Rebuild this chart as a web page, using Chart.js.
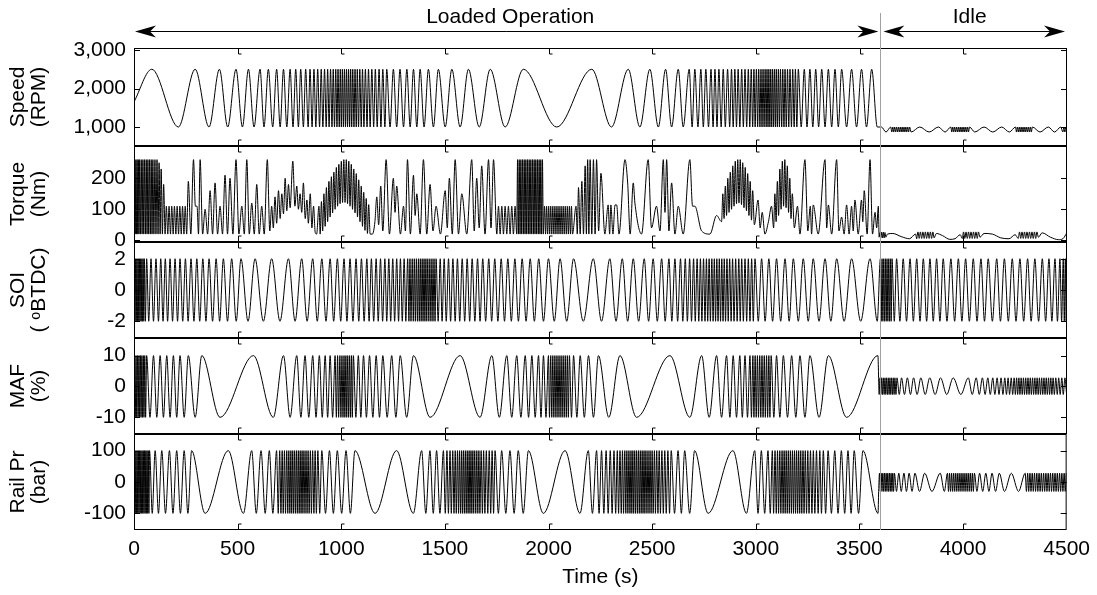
<!DOCTYPE html>
<html lang="en">
<head>
<meta charset="UTF-8" />
<title>Engine test cycle - loaded and idle operation</title>
<script src="https://cdn.jsdelivr.net/npm/chart.js"></script>
<style>
  body { margin: 0; background: #fff; }
  #wrap { position: relative; width: 1097px; height: 595px; }
  #wrap canvas { position: absolute; left: 0; top: 0; }
</style>
</head>
<body>
<div id="wrap">
  <canvas id="speedChart" width="1097" height="595"></canvas>
  <canvas id="torqueChart" width="1097" height="595"></canvas>
  <canvas id="soiChart" width="1097" height="595"></canvas>
  <canvas id="mafChart" width="1097" height="595"></canvas>
  <canvas id="railChart" width="1097" height="595"></canvas>
</div>
<script>
// ---- data (times in s) ----
const timeTicks = [0, 500, 1000, 1500, 2000, 2500, 3000, 3500, 4000, 4500];
const phaseSplit = 3590;   // last sample of loaded operation
const idleLine = 3600;

// Speed (RPM): turning points
const speedStart = [0, 1650];
const speedPeaks = [86,295,412,492,552,608,648,688,721,753,780,804,828,849,868,886,903,919,934,948,961,973,984,995,1005,1015,1025,1035,1045,1055,1066,1077,1089,1102,1116,1131,1147,1164,1182,1200,1219,1251,1283,1316,1348,1380,1420,1468,1533,1613,1718,1878,2208,2384,2488,2564,2625,2678,2705,2734,2758,2783,2802,2821,2842,2863,2882,2898,2914,2931,2947,2963,2977,2990,3002,3013,3024,3034,3044,3053,3062,3071,3080,3089,3098,3108,3118,3129,3140,3152,3164,3177,3190,3204,3233,3260,3288,3317,3349,3381,3413,3461,3509,3558,
  3605,3650,3660,3669,3678,3687,3696,3705,3714,3723,3732,3741,3790,3880,3940,3949,3958,3967,3976,3985,3994,4003,4012,4021,4030,4100,4185,4252,4261,4270,4279,4288,4297,4306,4315,4324,4333,4410,4470,4485,4494];
const speedTroughs = [214,362,452,523,579,627,669,705,737,767,793,817,840,859,877,895,911,927,941,955,967,979,990,1000,1010,1020,1030,1040,1050,1061,1072,1083,1096,1109,1124,1139,1156,1173,1191,1210,1235,1267,1300,1332,1364,1399,1444,1501,1573,1665,1790,2039,2303,2440,2529,2593,2649,2692,2720,2746,2771,2793,2812,2832,2852,2873,2890,2906,2922,2939,2955,2970,2984,2996,3008,3019,3029,3039,3049,3058,3067,3076,3085,3094,3103,3113,3124,3135,3146,3158,3171,3184,3197,3218,3246,3274,3302,3333,3365,3397,3437,3485,3533,3585,
  3627,3655,3664,3673,3682,3691,3700,3709,3718,3727,3736,3748,3835,3912,3944,3953,3962,3971,3980,3989,3998,4007,4016,4025,4055,4142,4222,4256,4265,4274,4283,4292,4301,4310,4319,4328,4370,4440,4480,4490,4500];
const speedLoaded = [2500, 1000];
const speedIdle = [1000, 870];

// Torque (Nm): [time, value]
const torqueTrace = [
  [0,110],[3,260],[6,20],[9,260],[12,20],[15,260],[18,20],[21,260],[24,20],[27,260],[31,20],[35,260],[39,20],[43,260],[47,20],[51,260],[55,20],[59,260],[63,20],[67,260],[71,20],[75,260],[79,20],[83,260],[87,20],[91,260],[96,20],[101,260],[106,20],[111,260],[116,20],[121,250],[126,20],[131,230],[137,20],[143,180],[150,20],[156,110],
  [163,20],[169,110],[176,20],[182,110],[189,20],[195,110],[202,20],[208,110],[215,20],[221,110],[228,20],[234,110],[241,20],[247,110],[254,20],
  [262,190],[274,20],[287,260],[296,110],[304,110],[311,20],[319,260],[331,20],[343,100],[355,20],[367,160],[379,20],[391,185],[403,20],[415,110],[427,20],[439,210],[451,20],[463,200],[477,20],[492,260],[506,20],[520,110],[532,20],[544,260],[556,20],[568,120],[580,20],[592,180],[604,20],[616,110],[628,20],[643,260],[655,30],[664,110],[672,40],[680,140],[688,55],[697,160],[705,70],[713,150],[721,85],[729,200],[737,95],[745,180],[753,105],[766,255],[776,110],[785,175],[793,100],[801,150],[809,90],[817,185],[826,70],[834,130],[841,55],[850,150],[858,40],[866,110],[874,25],[881,20],
  [892,110],[898,20],[904,125],[910,30],[916,150],[922,45],[928,170],[934,60],[940,190],[946,75],[952,205],[958,88],[964,220],[970,100],[976,235],[982,110],[988,245],[994,118],[1000,255],[1006,122],[1012,260],[1018,122],[1024,260],[1030,118],[1036,255],[1042,110],[1048,245],[1054,100],[1060,230],[1066,88],[1072,215],[1078,75],[1084,195],[1090,60],[1096,175],[1102,45],[1108,155],[1114,32],[1120,135],[1126,22],[1132,115],[1139,20],
  [1150,20],[1162,60],[1171,140],[1180,50],[1190,175],[1200,30],[1216,260],[1232,20],[1251,200],[1259,90],[1267,175],[1285,20],[1300,110],[1309,30],[1319,260],[1333,20],[1348,210],[1356,80],[1364,150],[1380,20],[1396,260],[1412,20],[1428,180],[1442,30],[1457,110],[1478,20],[1501,160],[1511,40],[1521,200],[1535,20],[1549,260],[1565,20],[1581,150],[1605,20],[1629,260],[1641,30],[1653,200],[1665,40],[1677,240],[1693,20],[1710,260],[1722,40],[1734,260],[1750,20],[1758,110],[1766,20],[1774,110],[1782,20],[1790,110],[1798,20],[1806,110],[1814,20],[1822,110],[1830,20],[1838,110],
  [1846,20],[1850,260],[1854,20],[1858,260],[1862,20],[1866,260],[1870,20],[1874,260],[1878,20],[1882,260],[1886,20],[1890,260],[1894,20],[1898,260],[1902,20],[1906,260],[1910,20],[1914,260],[1918,20],[1922,260],[1926,20],[1930,260],[1934,20],[1938,260],[1942,20],[1946,260],[1950,20],[1954,260],[1958,20],[1962,260],[1966,20],[1970,260],[1974,20],
  [1980,110],[1985,20],[1990,110],[1995,20],[2000,110],[2005,20],[2010,110],[2015,20],[2020,110],[2025,20],[2030,110],[2035,20],[2040,110],[2045,20],[2050,110],[2055,20],[2060,110],[2065,20],[2070,110],[2075,20],[2080,110],[2085,20],[2090,110],[2095,20],[2100,110],[2105,20],[2110,110],[2115,20],
  [2132,110],[2138,20],[2144,170],[2152,20],[2160,190],[2168,20],[2176,240],[2182,20],[2188,260],[2194,20],[2200,260],[2208,20],[2216,260],[2224,20],[2231,260],[2241,30],[2252,216],[2271,20],[2287,114],[2294,20],[2300,114],[2310,20],[2320,114],[2328,114],[2339,20],[2368,260],[2381,185],[2393,20],[2408,185],[2416,120],[2448,20],[2480,260],[2496,40],[2520,110],[2537,30],[2553,260],[2561,90],[2569,260],[2580,30],[2593,185],[2609,20],[2625,110],[2649,20],[2681,260],[2694,110],[2705,110],[2738,30],[2778,20],[2810,80],
  [2834,60],[2840,150],[2846,70],[2852,175],[2858,80],[2864,200],[2870,90],[2876,220],[2882,100],[2888,240],[2894,110],[2900,255],[2906,118],[2912,260],[2918,120],[2924,260],[2930,115],[2936,250],[2942,105],[2948,235],[2954,95],[2960,215],[2966,80],[2972,190],[2978,65],[2984,160],[2992,50],
  [3010,130],[3020,40],[3030,90],[3043,20],[3060,60],[3075,110],[3085,40],[3091,150],[3097,60],[3103,190],[3109,80],[3115,230],[3121,100],[3127,255],[3133,110],[3139,260],[3145,105],[3151,240],[3157,90],[3163,200],[3169,70],[3175,150],[3185,40],[3200,110],[3212,20],[3236,260],[3250,30],[3262,110],[3268,20],[3276,114],[3300,20],[3333,260],[3341,40],[3349,114],[3365,20],[3389,260],[3400,30],[3413,75],[3425,20],[3437,114],[3449,20],[3461,110],[3469,30],[3477,130],[3493,20],[3509,130],[3515,60],[3522,160],[3536,20],[3550,260],[3562,20],[3574,90],[3582,40],[3590,110],
  [3594,10],[3598,25],[3602,8],[3606,26],[3610,8],[3614,26],[3618,8],[3622,25],[3626,10],[3634,20],[3660,22],[3700,12],[3740,5],[3770,20],[3775,5],[3781,27],[3787,6],[3793,27],[3799,6],[3805,27],[3811,6],[3817,27],[3823,6],[3829,27],[3835,6],[3841,27],[3847,6],[3853,27],[3859,8],[3870,22],[3900,15],[3935,3],[3960,5],[3985,18],[3995,6],[4001,27],[4007,6],[4013,27],[4019,6],[4025,27],[4031,6],[4037,27],[4043,6],[4049,27],[4055,6],[4061,27],[4067,6],[4073,27],[4080,10],[4100,22],[4140,20],[4180,8],[4220,5],[4250,18],[4265,6],[4271,27],[4277,6],[4283,27],[4289,6],[4295,27],[4301,6],[4307,27],[4313,6],[4319,27],[4325,6],[4331,27],[4337,6],[4343,27],[4349,6],[4355,27],[4362,10],[4380,24],[4420,10],[4460,2],[4480,5],[4500,25]
];

// SOI (deg BTDC): turning points
const soiPeaks = [2,8,14,20,26,32,38,44,50,61,82,106,129,151,174,198,222,248,275,303,332,362,396,431,471,516,584,664,745,809,862,906,946,981,1013,1042,1071,1097,1123,1145,1168,1189,1210,1229,1248,1267,1285,1303,1320,1331,1342,1352,1362,1372,1381,1390,1399,1408,1417,1427,1437,1447,1457,1477,1496,1517,1538,1560,1583,1607,1631,1657,1682,1711,1740,1771,1803,1837,1872,1911,1952,1999,2055,2120,2215,2295,2355,2408,2461,2504,2545,2580,2609,2636,2659,2680,2699,2716,2732,2747,2761,2774,2787,2799,2811,2823,2835,2847,2860,2873,2887,2902,2917,2931,2947,2963,2979,2995,3027,3062,3099,3140,3180,3228,3276,3333,3389,3461,3550,
  3600,3608,3616,3624,3632,3640,3648,3656,3678,3710,3743,3775,3807,3839,3871,3903,3940,3976,4011,4048,4085,4120,4161,4198,4236,4273,4310,4345,4381,4413,4442,4466,4482,4492,4500];
const soiTroughs = [5,11,17,23,29,35,41,47,55,71,94,118,140,162,186,210,235,261,289,317,347,379,413,451,493,550,624,704,777,835,884,926,963,997,1027,1056,1084,1110,1134,1156,1178,1199,1219,1238,1257,1276,1294,1311,1326,1336,1347,1357,1367,1376,1385,1394,1403,1412,1422,1432,1442,1452,1467,1486,1506,1527,1549,1571,1595,1619,1644,1669,1696,1725,1755,1787,1820,1854,1891,1931,1975,2027,2087,2167,2255,2325,2381,2434,2482,2524,2562,2594,2622,2647,2669,2689,2707,2724,2739,2754,2767,2780,2793,2805,2817,2829,2841,2853,2866,2880,2894,2909,2924,2939,2955,2971,2987,3011,3044,3080,3119,3160,3204,3252,3304,3361,3425,3505,3585,
  3604,3612,3620,3628,3636,3644,3652,3667,3694,3726,3759,3791,3823,3855,3887,3921,3958,3993,4029,4066,4102,4140,4179,4217,4254,4291,4327,4363,4397,4427,4454,4474,4487,4496];
const soiLoaded = [2, -2];
const soiIdle = [2, -2];

// MAF (%): turning points
const mafPeaks = [3,10,17,24,31,38,45,52,61,94,126,158,190,222,262,327,576,721,785,825,862,894,922,946,970,982,993,1003,1013,1022,1031,1040,1049,1058,1082,1107,1136,1168,1200,1243,1284,1348,1573,1726,1798,1846,1887,1919,1951,1975,1999,2010,2020,2030,2040,2050,2060,2070,2080,2090,2100,2120,2152,2192,2240,2344,2585,2738,2810,2858,2890,2922,2947,2971,2985,2996,3007,3018,3029,3040,3051,3062,3073,3099,3132,3172,3212,3260,3349,3588,
  3598,3606,3614,3622,3630,3638,3646,3654,3662,3670,3680,3702,3730,3760,3795,3838,3890,3951,4024,4062,4092,4118,4142,4163,4182,4200,4216,4231,4245,4257,4268,4279,4290,4301,4312,4323,4334,4345,4356,4367,4378,4389,4400,4411,4422,4433,4446,4460,4475,4490];
const mafTroughs = [0,6,13,20,27,34,41,48,56,77,110,142,174,206,242,295,415,672,753,805,843,878,908,934,958,976,987,998,1008,1017,1026,1035,1044,1053,1070,1094,1121,1152,1184,1221,1263,1315,1428,1669,1762,1822,1866,1903,1935,1963,1987,2004,2015,2025,2035,2045,2055,2065,2075,2085,2095,2110,2136,2172,2216,2290,2424,2681,2774,2834,2874,2906,2934,2959,2978,2990,3001,3012,3023,3034,3045,3056,3067,3086,3115,3152,3192,3236,3304,3437,
  3594,3602,3610,3618,3626,3634,3642,3650,3658,3666,3675,3691,3716,3745,3777,3816,3864,3920,3988,4043,4077,4105,4130,4152,4172,4191,4208,4223,4238,4251,4262,4273,4284,4295,4306,4317,4328,4339,4350,4361,4372,4383,4394,4405,4416,4427,4439,4453,4467,4482,4498];
const mafLoaded = [10, -10];
const mafIdle = [2.8, -2.6];

// Rail pressure (bar): turning points
const railPeaks = [3,9,15,21,27,33,39,45,51,57,63,69,75,102,134,171,206,242,278,455,568,613,653,688,703,715,726,737,747,757,766,775,784,793,802,811,820,830,840,851,862,874,887,906,943,981,1023,1066,1267,1388,1428,1460,1493,1510,1525,1538,1550,1561,1571,1581,1590,1599,1608,1617,1626,1635,1644,1654,1664,1675,1687,1700,1714,1728,1742,1774,1814,1854,1903,2080,2192,2232,2256,2278,2298,2316,2332,2345,2357,2368,2378,2388,2398,2407,2416,2425,2434,2443,2452,2461,2470,2480,2490,2500,2511,2522,2534,2547,2561,2576,2592,2625,2657,2705,2890,2995,3027,3059,3080,3093,3105,3116,3127,3137,3147,3157,3167,3177,3187,3197,3207,3217,3228,3239,3251,3264,3278,3293,3309,3326,3349,3381,3413,3445,3475,3517,
  3597,3605,3613,3621,3629,3637,3645,3653,3661,3669,3690,3715,3740,3768,3815,3890,3925,3935,3945,3955,3965,3975,3985,3995,4005,4015,4025,4035,4045,4055,4080,4110,4140,4175,4233,4300,4312,4323,4334,4345,4356,4367,4378,4389,4400,4411,4422,4433,4444,4455,4466,4477,4488,4498];
const railTroughs = [0,6,12,18,24,30,36,42,48,54,60,66,72,88,118,152,188,224,260,343,528,590,633,670,696,709,720,731,742,752,761,770,779,788,797,806,815,825,835,845,856,868,880,896,924,962,1002,1044,1163,1348,1408,1444,1476,1502,1517,1531,1544,1555,1566,1576,1585,1594,1603,1612,1621,1630,1639,1649,1659,1669,1681,1693,1707,1721,1735,1758,1794,1834,1878,1975,2152,2212,2244,2267,2288,2307,2324,2338,2351,2362,2373,2383,2393,2402,2411,2420,2429,2438,2447,2456,2465,2475,2485,2495,2505,2516,2528,2540,2554,2568,2584,2608,2641,2681,2770,2955,3011,3043,3070,3086,3099,3110,3121,3132,3142,3152,3162,3172,3182,3192,3202,3212,3222,3233,3245,3257,3271,3285,3301,3317,3337,3365,3397,3429,3460,3496,3590,
  3593,3601,3609,3617,3625,3633,3641,3649,3657,3665,3679,3702,3727,3754,3790,3850,3910,3930,3940,3950,3960,3970,3980,3990,4000,4010,4020,4030,4040,4050,4067,4095,4125,4157,4200,4268,4306,4317,4328,4339,4350,4361,4372,4383,4394,4405,4416,4427,4438,4449,4460,4471,4482,4493];
const railLoaded = [100, -100];
const railIdle = [28, -30];

// axis ticks
const speedTicks = [1000, 2000, 3000];
const speedTickLabels = ['1,000', '2,000', '3,000'];
const torqueTicks = [0, 100, 200];
const soiTicks = [-2, 0, 2];
const mafTicks = [-10, 0, 10];
const railTicks = [-100, 0, 100];

// ---- build point lists ----
function turningPoints(peaks, troughs, loaded, idle, start) {
  const pts = [];
  if (start) pts.push({ x: start[0], y: start[1] });
  peaks.forEach(t => pts.push({ x: t, y: (t <= phaseSplit ? loaded : idle)[0] }));
  troughs.forEach(t => pts.push({ x: t, y: (t <= phaseSplit ? loaded : idle)[1] }));
  return pts.sort((a, b) => a.x - b.x);
}

Chart.defaults.font.family = '"Liberation Sans", Arial, "DejaVu Sans", sans-serif';
Chart.defaults.color = '#000';

const FONT = 21;

// frame, inward tick marks and the phase divider for every panel
const panelFrame = {
  id: 'panelFrame',
  afterDatasetsDraw(chart) {
    const { ctx, chartArea: a, scales: { x, y } } = chart;
    const yTicks = chart.options.plugins.panelFrame.yTicks;
    ctx.save();
    ctx.strokeStyle = '#000';
    ctx.lineWidth = 1;
    ctx.strokeRect(a.left + 0.5, a.top + 0.5, a.right - a.left - 1, a.bottom - a.top - 1);
    ctx.beginPath();
    timeTicks.forEach(v => {
      if (v <= x.min || v >= x.max) return;
      const px = Math.round(x.getPixelForValue(v)) + 0.5;
      ctx.moveTo(px, a.top); ctx.lineTo(px, a.top + 6); ctx.lineTo(px + 3, a.top + 6);
      ctx.moveTo(px, a.bottom); ctx.lineTo(px, a.bottom - 6); ctx.lineTo(px + 3, a.bottom - 6);
    });
    yTicks.forEach(v => {
      const py = Math.round(y.getPixelForValue(v)) + 0.5;
      ctx.moveTo(a.left, py); ctx.lineTo(a.left + 6, py);
      ctx.moveTo(a.right, py); ctx.lineTo(a.right - 6, py);
    });
    ctx.stroke();
    const dx = Math.round(x.getPixelForValue(idleLine)) + 0.5;
    ctx.strokeStyle = '#a0a0a0';
    ctx.beginPath(); ctx.moveTo(dx, a.top); ctx.lineTo(dx, a.bottom); ctx.stroke();
    ctx.restore();
  }
};

function arrowHead(ctx, tipX, y, dir) {
  ctx.beginPath();
  ctx.moveTo(tipX, y);
  ctx.lineTo(tipX - dir * 21, y - 6);
  ctx.lineTo(tipX - dir * 15, y);
  ctx.lineTo(tipX - dir * 21, y + 6);
  ctx.closePath();
  ctx.fill();
}

// "Loaded Operation" / "Idle" banner above the top panel
const phaseBanner = {
  id: 'phaseBanner',
  afterDraw(chart) {
    const { ctx, chartArea: a, scales: { x } } = chart;
    const x0 = x.getPixelForValue(0), xs = x.getPixelForValue(idleLine), x1 = x.getPixelForValue(4500);
    const ya = 31.5;
    ctx.save();
    const dx = Math.round(xs) + 0.5;
    ctx.strokeStyle = '#a0a0a0';
    ctx.lineWidth = 1;
    ctx.beginPath(); ctx.moveTo(dx, 13); ctx.lineTo(dx, a.top); ctx.stroke();
    ctx.strokeStyle = '#000';
    ctx.fillStyle = '#000';
    ctx.beginPath();
    ctx.moveTo(x0 + 4, ya); ctx.lineTo(xs - 6, ya);
    ctx.moveTo(xs + 6, ya); ctx.lineTo(x1 - 4, ya);
    ctx.stroke();
    arrowHead(ctx, x0 + 1, ya, -1);
    arrowHead(ctx, xs - 2, ya, 1);
    arrowHead(ctx, xs + 3, ya, -1);
    arrowHead(ctx, x1 - 2, ya, 1);
    ctx.font = FONT + 'px "Liberation Sans", Arial, sans-serif';
    ctx.textAlign = 'center';
    ctx.textBaseline = 'middle';
    ctx.fillText('Loaded Operation', (x0 + xs) / 2 + 3, 17);
    ctx.fillText('Idle', (xs + x1) / 2 - 4, 17);
    ctx.restore();
  }
};

function makePanel(id, cfg) {
  const bottomAxis = !!cfg.bottomAxis;
  return new Chart(document.getElementById(id), {
    type: 'line',
    data: {
      datasets: [{
        data: cfg.points,
        borderColor: '#000',
        borderWidth: 1,
        pointRadius: 0,
        cubicInterpolationMode: 'monotone',
        fill: false
      }]
    },
    options: {
      responsive: false,
      animation: false,
      events: [],
      parsing: false,
      layout: { padding: { left: 0, right: 30, top: cfg.top, bottom: bottomAxis ? 0 : 595 - cfg.bottom } },
      plugins: {
        legend: { display: false },
        tooltip: { enabled: false },
        panelFrame: { yTicks: cfg.ticks }
      },
      scales: {
        x: {
          type: 'linear',
          min: 0,
          max: 4500,
          display: bottomAxis,
          afterFit: s => { s.height = bottomAxis ? 65 : 0; },
          afterBuildTicks: s => { s.ticks = timeTicks.map(v => ({ value: v })); },
          grid: { display: false, drawTicks: false },
          border: { display: false },
          ticks: { autoSkip: false, maxRotation: 0, padding: 7, font: { size: FONT }, callback: v => String(v) },
          title: { display: true, text: 'Time (s)', font: { size: FONT }, padding: { top: 0, bottom: 5 } }
        },
        y: {
          type: 'linear',
          min: cfg.min,
          max: cfg.max,
          afterFit: s => { s.width = 134; },
          afterBuildTicks: s => { s.ticks = cfg.ticks.map(v => ({ value: v })); },
          grid: { display: false, drawTicks: false },
          border: { display: false },
          ticks: {
            padding: 8,
            font: { size: FONT },
            callback: (v, i) => cfg.labels ? cfg.labels[i] : String(v)
          },
          title: { display: true, text: cfg.title, font: { size: FONT, lineHeight: 1.0 }, padding: { top: 8, bottom: 0 } }
        }
      }
    },
    plugins: cfg.banner ? [panelFrame, phaseBanner] : [panelFrame]
  });
}

makePanel('speedChart', {
  points: turningPoints(speedPeaks, speedTroughs, speedLoaded, speedIdle, speedStart),
  top: 48, bottom: 146, min: 507, max: 3052,
  ticks: speedTicks, labels: speedTickLabels, title: ['Speed', '(RPM)'], banner: true
});
makePanel('torqueChart', {
  points: torqueTrace.map(p => ({ x: p[0], y: p[1] })),
  top: 146, bottom: 242, min: -5.5, max: 304,
  ticks: torqueTicks, title: ['Torque', '(Nm)']
});
makePanel('soiChart', {
  points: turningPoints(soiPeaks, soiTroughs, soiLoaded, soiIdle),
  top: 242, bottom: 338, min: -3.07, max: 3.07,
  ticks: soiTicks, title: ['SOI', '( \u1D52BTDC)']
});
makePanel('mafChart', {
  points: turningPoints(mafPeaks, mafTroughs, mafLoaded, mafIdle),
  top: 338, bottom: 434, min: -15.4, max: 15.7,
  ticks: mafTicks, title: ['MAF', '(%)']
});
makePanel('railChart', {
  points: turningPoints(railPeaks, railTroughs, railLoaded, railIdle),
  top: 434, bottom: 530, min: -153, max: 153,
  ticks: railTicks, title: ['Rail Pr', '(bar)'], bottomAxis: true
});
</script>
</body>
</html>
